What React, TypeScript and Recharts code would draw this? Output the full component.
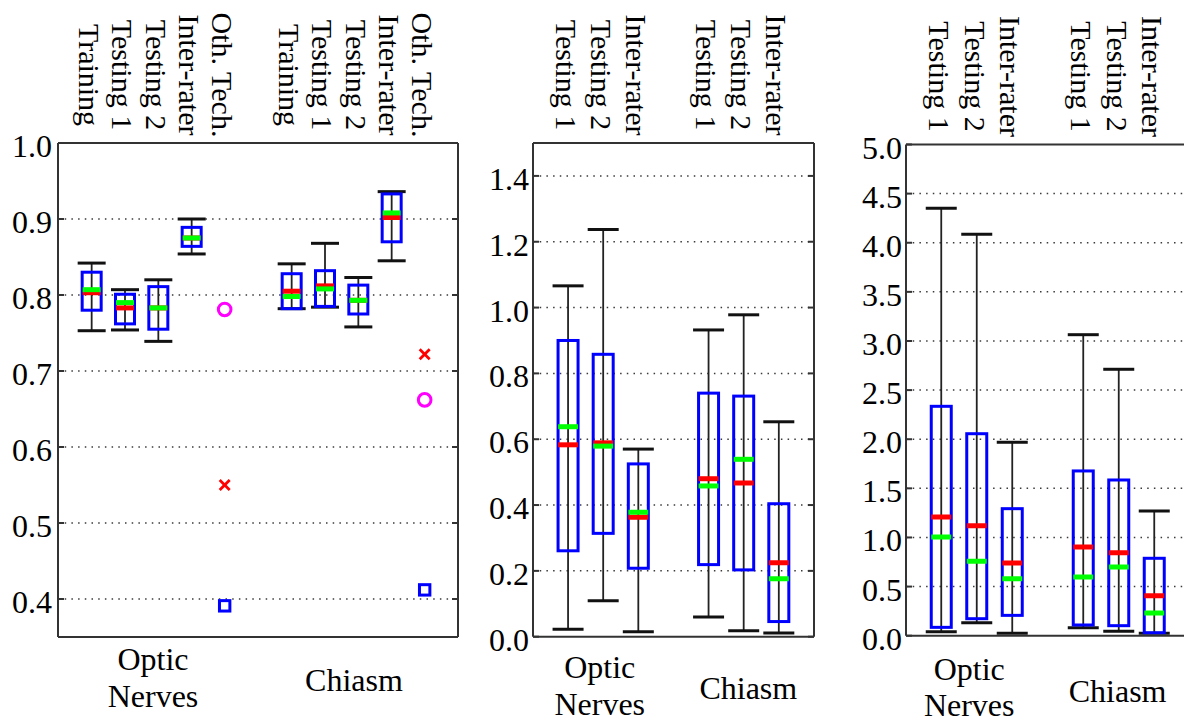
import React from 'react';
import { ComposedChart, Bar, Scatter, XAxis, YAxis, CartesianGrid } from 'recharts';

const FONT = "'Liberation Serif', 'Times New Roman', Times, serif";
const FRAME = '#333333';
const TXT = { fontFamily: FONT };

// ---------- categories ----------
const groups = ['Optic Nerves', 'Chiasm'];
const p1Methods = ['Training', 'Testing 1', 'Testing 2', 'Inter-rater', 'Oth. Tech.'];
const p23Methods = ['Testing 1', 'Testing 2', 'Inter-rater'];

// ---------- panel 1 (boxes: Training, Testing 1, Testing 2, Inter-rater per group) ----------
const p1Low = [0.753, 0.754, 0.739, 0.854, 0.782, 0.784, 0.758, 0.845];
const p1High = [0.842, 0.807, 0.82, 0.9, 0.841, 0.868, 0.823, 0.936];
const p1Q1 = [0.78, 0.762, 0.755, 0.864, 0.782, 0.785, 0.775, 0.87];
const p1Q3 = [0.83, 0.801, 0.811, 0.889, 0.828, 0.832, 0.813, 0.933];
const p1Median = [0.803, 0.783, 0.783, 0.875, 0.805, 0.812, 0.793, 0.902];
const p1Mean = [0.807, 0.79, 0.783, 0.875, 0.798, 0.808, 0.793, 0.908];
const p1Ticks = [0.4, 0.5, 0.6, 0.7, 0.8, 0.9, 1.0];
// Oth. Tech. (Optic Nerves, Chiasm)
const othCircle = [0.781, 0.662];
const othCross = [0.55, 0.722];
const othSquare = [0.391, 0.412];

// ---------- panel 2 ----------
const p2Low = [0.023, 0.109, 0.015, 0.06, 0.018, 0.011];
const p2High = [1.066, 1.237, 0.57, 0.932, 0.978, 0.653];
const p2Q1 = [0.261, 0.314, 0.208, 0.219, 0.203, 0.046];
const p2Q3 = [0.9, 0.858, 0.525, 0.74, 0.731, 0.404];
const p2Median = [0.583, 0.589, 0.363, 0.48, 0.467, 0.225];
const p2Mean = [0.638, 0.579, 0.378, 0.458, 0.539, 0.176];
const p2Ticks = [0, 0.2, 0.4, 0.6, 0.8, 1.0, 1.2, 1.4];

// ---------- panel 3 ----------
const p3Low = [0.04, 0.132, 0.024, 0.081, 0.045, 0.024];
const p3High = [4.35, 4.086, 1.969, 3.064, 2.712, 1.269];
const p3Q1 = [0.085, 0.173, 0.207, 0.109, 0.102, 0.03];
const p3Q3 = [2.335, 2.056, 1.293, 1.677, 1.585, 0.788];
const p3Median = [1.208, 1.12, 0.74, 0.903, 0.845, 0.407];
const p3Mean = [1.005, 0.757, 0.58, 0.598, 0.7, 0.231];
const p3Ticks = [0, 0.5, 1.0, 1.5, 2.0, 2.5, 3.0, 3.5, 4.0, 4.5, 5.0];

type Row = { x: number; lo: number; hi: number; q1: number; q3: number; med: number; mean: number };

function buildRows(nBoxes: number, nSlots: number, low: number[], high: number[], q1: number[], q3: number[], med: number[], mean: number[]): Row[] {
  const rows: Row[] = [];
  let k = 0;
  for (let g = 0; g < groups.length; g++) {
    for (let i = 0; i < nBoxes; i++) {
      rows.push({ x: g * (nSlots + 1) + i + 1, lo: low[k], hi: high[k], q1: q1[k], q3: q3[k], med: med[k], mean: mean[k] });
      k++;
    }
  }
  return rows;
}

function slotLabels(methods: string[]): { x: number; label: string }[] {
  const out: { x: number; label: string }[] = [];
  for (let g = 0; g < groups.length; g++) {
    methods.forEach((m, i) => out.push({ x: g * (methods.length + 1) + i + 1, label: m }));
  }
  return out;
}

function BoxShape(props: any) {
  const { x, y, width, height, payload, boxW, medW } = props;
  if (!payload || height == null || y == null) return null;
  const { lo, hi, q1, q3, med, mean } = payload as Row;
  const py = (v: number) => y + ((hi - v) / (hi - lo)) * height;
  const cx = x + width / 2;
  const cw = width;
  return (
    <g>
      <line x1={cx} x2={cx} y1={py(hi)} y2={py(lo)} stroke="#222" strokeWidth={1.8} />
      <line x1={cx - cw / 2} x2={cx + cw / 2} y1={py(hi)} y2={py(hi)} stroke="#111" strokeWidth={3} />
      <line x1={cx - cw / 2} x2={cx + cw / 2} y1={py(lo)} y2={py(lo)} stroke="#111" strokeWidth={3} />
      <rect x={cx - boxW / 2} y={py(q3)} width={boxW} height={py(q1) - py(q3)} fill="none" stroke="#0000ff" strokeWidth={3} />
      <line x1={cx - medW / 2} x2={cx + medW / 2} y1={py(med)} y2={py(med)} stroke="#ff0000" strokeWidth={5} />
      <line x1={cx - medW / 2} x2={cx + medW / 2} y1={py(mean)} y2={py(mean)} stroke="#00ff00" strokeWidth={5} />
    </g>
  );
}

type PanelCfg = {
  left: number;
  width: number;
  yAxisW: number;
  marginRight: number;
  topH: number;
  bottomH: number;
  xMax: number;
  yDomain: [number, number];
  yTicks: number[];
  labelGap: number;
  rows: Row[];
  methods: string[];
  labelTicks: number[];
  lineBase: [number, number];
  singleBase: number;
  capW: number;
  boxW: number;
  medW: number;
  outliers?: boolean;
};

function Panel(cfg: PanelCfg) {
  const { left, width, yAxisW, marginRight, topH, bottomH, xMax, yDomain, yTicks, labelGap, rows, methods, labelTicks, lineBase, singleBase, capW, boxW, medW, outliers } = cfg;
  const height = 721;
  const slots = slotLabels(methods);
  const slotTicks = slots.map((s) => s.x);
  const gridValues = yTicks.filter((t) => t > yDomain[0] && t < yDomain[1]);

  const leftTick = (p: any) => {
    const v = p.payload.value as number;
    return (
      <g>
        <line x1={p.x} x2={p.x + 6} y1={p.y} y2={p.y} stroke={FRAME} strokeWidth={2} />
        <text x={p.x - labelGap} y={p.y + 14} textAnchor="end" style={TXT} fontSize={32} fill="#000">
          {v.toFixed(1)}
        </text>
      </g>
    );
  };
  const rightTick = (p: any) => <line x1={p.x - 6} x2={p.x} y1={p.y} y2={p.y} stroke={FRAME} strokeWidth={2} />;
  const topTick = (p: any) => {
    const s = slots.find((q) => Math.abs(q.x - p.payload.value) < 1e-6);
    if (!s) return <g />;
    return (
      <text transform={`translate(${p.x - 12.5}, ${p.y - 68}) rotate(90)`} textAnchor="middle" style={TXT} fontSize={30} fill="#000">
        {s.label}
      </text>
    );
  };
  const bottomTick = (p: any) => {
    const idx = labelTicks.findIndex((t) => Math.abs(t - p.payload.value) < 1e-6);
    const name = groups[idx] || '';
    const parts = name.split(' ');
    if (parts.length > 1) {
      return (
        <text textAnchor="middle" style={TXT} fontSize={32} fill="#000">
          <tspan x={p.x} y={p.y + lineBase[0]}>{parts[0]}</tspan>
          <tspan x={p.x} y={p.y + lineBase[1]}>{parts.slice(1).join(' ')}</tspan>
        </text>
      );
    }
    return (
      <text x={p.x} y={p.y + singleBase} textAnchor="middle" style={TXT} fontSize={32} fill="#000">
        {name}
      </text>
    );
  };

  const othX = (g: number) => g * (methods.length + 1) + methods.length;
  const circleData = othCircle.map((v, g) => ({ x: othX(g), v }));
  const crossData = othCross.map((v, g) => ({ x: othX(g), v }));
  const squareData = othSquare.map((v, g) => ({ x: othX(g), v }));

  return (
    <div style={{ position: 'absolute', left, top: 0, width, height }}>
      <ComposedChart width={width} height={height} data={rows} margin={{ top: 0, right: marginRight, bottom: 0, left: 0 }}>
        <CartesianGrid xAxisId="b" yAxisId="l" vertical={false} horizontalValues={gridValues} stroke="#3a3a3a" strokeWidth={1.5} strokeDasharray="1.5 5.2" />
        <XAxis xAxisId="b" dataKey="x" type="number" domain={[0, xMax]} allowDataOverflow ticks={labelTicks} interval={0} height={bottomH} tickSize={0} tickMargin={0} tickLine={false} axisLine={{ stroke: FRAME, strokeWidth: 2 }} tick={bottomTick} />
        <XAxis xAxisId="t" dataKey="x" orientation="top" type="number" domain={[0, xMax]} allowDataOverflow ticks={slotTicks} interval={0} height={topH} tickSize={0} tickMargin={0} tickLine={false} axisLine={{ stroke: FRAME, strokeWidth: 2 }} tick={topTick} />
        <YAxis yAxisId="l" type="number" domain={yDomain} allowDataOverflow ticks={yTicks} interval={0} width={yAxisW} tickSize={0} tickMargin={0} tickLine={false} axisLine={{ stroke: FRAME, strokeWidth: 2 }} tick={leftTick} />
        <YAxis yAxisId="r" orientation="right" mirror type="number" domain={yDomain} allowDataOverflow ticks={yTicks} interval={0} tickSize={0} tickMargin={0} tickLine={false} axisLine={{ stroke: FRAME, strokeWidth: 2 }} tick={rightTick} />
        <Bar xAxisId="b" yAxisId="l" dataKey={(d: Row) => [d.lo, d.hi]} barSize={capW} isAnimationActive={false} shape={(p: any) => <BoxShape {...p} boxW={boxW} medW={medW} />} />
        {outliers && (
          <Scatter xAxisId="b" yAxisId="l" data={circleData} dataKey="v" isAnimationActive={false} shape={(p: any) => <circle cx={p.cx} cy={p.cy} r={6.3} fill="none" stroke="#ff00ff" strokeWidth={3} />} />
        )}
        {outliers && (
          <Scatter xAxisId="b" yAxisId="l" data={crossData} dataKey="v" isAnimationActive={false} shape={(p: any) => (
            <g stroke="#ff0000" strokeWidth={2.8}>
              <line x1={p.cx - 5} x2={p.cx + 5} y1={p.cy - 5} y2={p.cy + 5} />
              <line x1={p.cx - 5} x2={p.cx + 5} y1={p.cy + 5} y2={p.cy - 5} />
            </g>
          )} />
        )}
        {outliers && (
          <Scatter xAxisId="b" yAxisId="l" data={squareData} dataKey="v" isAnimationActive={false} shape={(p: any) => <rect x={p.cx - 5.2} y={p.cy - 5.2} width={10.4} height={10.4} fill="none" stroke="#0000ff" strokeWidth={3} />} />
        )}
      </ComposedChart>
    </div>
  );
}

const rows1 = buildRows(4, p1Methods.length, p1Low, p1High, p1Q1, p1Q3, p1Median, p1Mean);
const rows2 = buildRows(3, p23Methods.length, p2Low, p2High, p2Q1, p2Q3, p2Median, p2Mean);
const rows3 = buildRows(3, p23Methods.length, p3Low, p3High, p3Q1, p3Q3, p3Median, p3Mean);

export default function App() {
  return (
    <div style={{ position: 'absolute', left: 0, top: 0, width: 1184, height: 721, overflow: 'hidden', background: '#fff', fontFamily: FONT }}>
      <Panel left={0} width={470} yAxisW={58} marginRight={12} topH={143} bottomH={84} xMax={12} yDomain={[0.35, 1.0]} yTicks={p1Ticks} labelGap={6}
        rows={rows1} methods={p1Methods} labelTicks={[2.85, 8.88]} lineBase={[33, 70]} singleBase={54} capW={28} boxW={19} medW={18} outliers />
      <Panel left={470} width={355} yAxisW={63} marginRight={11} topH={143} bottomH={84.3} xMax={8} yDomain={[0, 1.5]} yTicks={p2Ticks} labelGap={4}
        rows={rows2} methods={p23Methods} labelTicks={[1.9, 6.13]} lineBase={[41, 78]} singleBase={62} capW={31} boxW={20} medW={20} />
      <Panel left={835} width={365} yAxisW={71} marginRight={10} topH={144.5} bottomH={85.3} xMax={8} yDomain={[0, 5]} yTicks={p3Ticks} labelGap={4}
        rows={rows3} methods={p23Methods} labelTicks={[1.78, 5.96]} lineBase={[44, 80]} singleBase={66} capW={31} boxW={20} medW={20} />
    </div>
  );
}
